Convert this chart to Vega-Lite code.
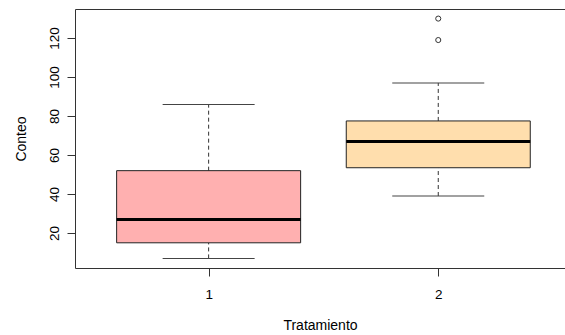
{
  "$schema": "https://vega.github.io/schema/vega-lite/v6.json",
  "width": 490,
  "height": 259,
  "autosize": "none",
  "padding": {"left": 75, "top": 9, "right": 0, "bottom": 67},
  "background": "white",
  "config": {
    "view": {"stroke": null},
    "axis": {
      "grid": false,
      "domainColor": "#333333",
      "tickColor": "#333333",
      "labelColor": "black",
      "titleColor": "black",
      "labelFont": "Liberation Sans",
      "titleFont": "Liberation Sans",
      "labelFontSize": 13.5,
      "titleFontSize": 14,
      "titleFontWeight": "normal"
    }
  },
  "datasets": {
    "cajas": [
      {"Tratamiento": 1, "minimo": 7, "q1": 15, "mediana": 27, "q3": 52, "maximo": 86},
      {"Tratamiento": 2, "minimo": 39, "q1": 53.5, "mediana": 67, "q3": 77.5, "maximo": 97}
    ],
    "atipicos": [
      {"Tratamiento": 2, "Conteo": 119},
      {"Tratamiento": 2, "Conteo": 130}
    ]
  },
  "resolve": {"axis": {"x": "independent", "y": "shared"}},
  "layer": [
    {
      "data": {"name": "cajas"},
      "mark": {"type": "rule", "strokeDash": [4, 3], "color": "#333333", "strokeWidth": 1},
      "encoding": {
        "x": {
          "field": "Tratamiento", "type": "quantitative",
          "scale": {"domain": [0.418, 2.552], "nice": false, "zero": false, "padding": 0},
          "axis": {"orient": "bottom", "values": [1, 2], "format": "d", "tickSize": 8, "labelPadding": 11, "labelAngle": 0, "title": "Tratamiento", "titlePadding": 18}
        },
        "y": {
          "field": "q3", "type": "quantitative", "title": "Conteo",
          "scale": {"domain": [2.08, 134.92], "nice": false, "zero": false, "padding": 0},
          "axis": {"values": [20, 40, 60, 80, 100, 120], "tickSize": 8, "labelAngle": -90, "labelPadding": 6, "titlePadding": 19}
        },
        "y2": {"field": "maximo"}
      }
    },
    {
      "data": {"name": "cajas"},
      "mark": {"type": "rule", "strokeDash": [4, 3], "color": "#333333", "strokeWidth": 1},
      "encoding": {
        "x": {"field": "Tratamiento", "type": "quantitative", "axis": null},
        "y": {
          "field": "minimo", "type": "quantitative", "title": "Conteo",
          "axis": {"values": [20, 40, 60, 80, 100, 120], "tickSize": 8, "labelAngle": -90, "labelPadding": 6, "titlePadding": 19}
        },
        "y2": {"field": "q1"}
      }
    },
    {
      "data": {"name": "cajas"},
      "mark": {"type": "tick", "orient": "horizontal", "size": 92, "thickness": 1, "color": "#444444", "opacity": 1},
      "encoding": {
        "x": {"field": "Tratamiento", "type": "quantitative", "axis": null},
        "y": {
          "field": "maximo", "type": "quantitative", "title": "Conteo",
          "axis": {"values": [20, 40, 60, 80, 100, 120], "tickSize": 8, "labelAngle": -90, "labelPadding": 6, "titlePadding": 19}
        }
      }
    },
    {
      "data": {"name": "cajas"},
      "mark": {"type": "tick", "orient": "horizontal", "size": 92, "thickness": 1, "color": "#444444", "opacity": 1},
      "encoding": {
        "x": {"field": "Tratamiento", "type": "quantitative", "axis": null},
        "y": {
          "field": "minimo", "type": "quantitative", "title": "Conteo",
          "axis": {"values": [20, 40, 60, 80, 100, 120], "tickSize": 8, "labelAngle": -90, "labelPadding": 6, "titlePadding": 19}
        }
      }
    },
    {
      "data": {"name": "cajas"},
      "mark": {"type": "bar", "size": 184, "stroke": "#222222", "strokeWidth": 1, "opacity": 1},
      "encoding": {
        "x": {"field": "Tratamiento", "type": "quantitative", "axis": null},
        "y": {
          "field": "q1", "type": "quantitative", "title": "Conteo",
          "axis": {"values": [20, 40, 60, 80, 100, 120], "tickSize": 8, "labelAngle": -90, "labelPadding": 6, "titlePadding": 19}
        },
        "y2": {"field": "q3"},
        "fill": {
          "field": "Tratamiento", "type": "nominal",
          "scale": {"range": ["#FFB0B0", "#FFDEAD"]},
          "legend": null
        }
      }
    },
    {
      "data": {"name": "cajas"},
      "mark": {"type": "tick", "orient": "horizontal", "size": 184, "thickness": 3, "color": "black", "opacity": 1},
      "encoding": {
        "x": {"field": "Tratamiento", "type": "quantitative", "axis": null},
        "y": {
          "field": "mediana", "type": "quantitative", "title": "Conteo",
          "axis": {"values": [20, 40, 60, 80, 100, 120], "tickSize": 8, "labelAngle": -90, "labelPadding": 6, "titlePadding": 19}
        }
      }
    },
    {
      "data": {"name": "atipicos"},
      "mark": {"type": "point", "shape": "circle", "filled": false, "size": 26, "stroke": "#333333", "strokeWidth": 1, "opacity": 1},
      "encoding": {
        "x": {
          "field": "Tratamiento", "type": "quantitative",
          "axis": {"orient": "top", "labels": false, "ticks": false, "title": null, "domain": true}
        },
        "y": {
          "field": "Conteo", "type": "quantitative", "title": "Conteo",
          "axis": {"values": [20, 40, 60, 80, 100, 120], "tickSize": 8, "labelAngle": -90, "labelPadding": 6, "titlePadding": 19}
        }
      }
    }
  ]
}
